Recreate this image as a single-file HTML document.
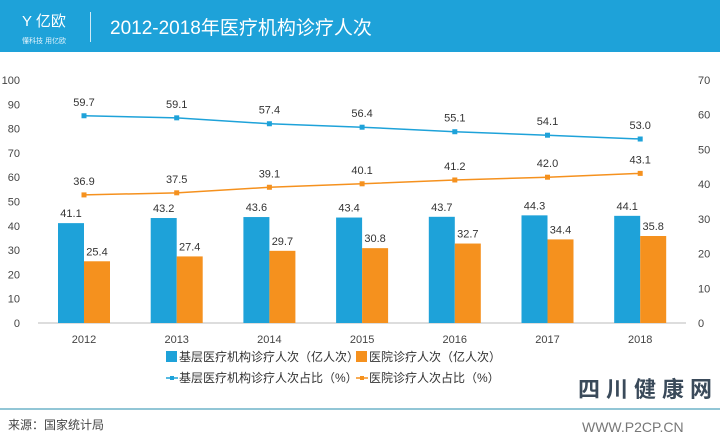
<!DOCTYPE html>
<html><head><meta charset="utf-8"><style>
body{margin:0;width:720px;height:443px;background:#fff;overflow:hidden;font-family:"Liberation Sans","Noto Sans CJK SC",sans-serif}
#hdr{position:absolute;left:0;top:0;width:720px;height:52px;background:#1ea2d9}
</style></head><body>
<div id="hdr">
<div style="position:absolute;left:22px;top:10px;color:#fff;font-size:15px">Y 亿欧</div>
<div style="position:absolute;left:22px;top:36px;color:#e0f2fb;font-size:7px">懂科技 用亿欧</div>
<div style="position:absolute;left:90px;top:12px;width:1px;height:30px;background:#cfeaf7"></div>
<div style="position:absolute;left:110px;top:13px;color:#fff;font-size:19px">2012-2018年医疗机构诊疗人次</div>
</div>
<svg id="c" width="720" height="443" style="position:absolute;left:0;top:0"></svg>
<script>
const years=["2012","2013","2014","2015","2016","2017","2018"];
const basicVisits=[41.1,43.2,43.6,43.4,43.7,44.3,44.1];
const hospVisits=[25.4,27.4,29.7,30.8,32.7,34.4,35.8];
const basicShare=[59.7,59.1,57.4,56.4,55.1,54.1,53.0];
const hospShare=[36.9,37.5,39.1,40.1,41.2,42.0,43.1];
const leftTicks=[0,10,20,30,40,50,60,70,80,90,100];
const rightTicks=[0,10,20,30,40,50,60,70];
const svg=document.getElementById('c');const NS="http://www.w3.org/2000/svg";
const y0=323,yTop=80;
const yL=v=>y0-(v/100)*(y0-yTop);
const yR=v=>y0-(v/70)*(y0-yTop);
const xC=i=>84+i*92.7;
const BLUE="#1ea2d9",ORANGE="#f5911e";
function mk(t,a,txt){const e=document.createElementNS(NS,t);for(const k in a)e.setAttribute(k,a[k]);if(txt!==undefined)e.textContent=txt;svg.appendChild(e);return e;}
leftTicks.forEach(v=>{const e=mk('text',{x:20,y:yL(v)+4,'text-anchor':'end','font-size':11,fill:'#444'},v);

});
rightTicks.forEach(v=>{const e=mk('text',{x:698,y:yR(v)+4,'text-anchor':'start','font-size':11,fill:'#444'},v);

});
const ax=mk('line',{x1:38,x2:686,y1:y0,y2:y0,stroke:'#bbb','stroke-width':1});


years.forEach((yr,i)=>{const x=xC(i);const bw=26;
const b=mk('rect',{x:x-bw,y:yL(basicVisits[i]),width:bw,height:y0-yL(basicVisits[i]),fill:BLUE});


const h=mk('rect',{x:x,y:yL(hospVisits[i]),width:bw,height:y0-yL(hospVisits[i]),fill:ORANGE});


const l1=mk('text',{x:x-bw/2,y:yL(basicVisits[i])-6,'text-anchor':'middle','font-size':11,fill:'#333'},basicVisits[i].toFixed(1));


const l2=mk('text',{x:x+bw/2,y:yL(hospVisits[i])-6,'text-anchor':'middle','font-size':11,fill:'#333'},hospVisits[i].toFixed(1));


const xl=mk('text',{x:x,y:y0+20,'text-anchor':'middle','font-size':11,fill:'#444'},yr);

});
function line(arr,col,nm){const p=arr.map((v,i)=>xC(i)+','+yR(v)).join(' ');
const pl=mk('polyline',{points:p,fill:'none',stroke:col,'stroke-width':1.5});


arr.forEach((v,i)=>{const m=mk('rect',{x:xC(i)-2.5,y:yR(v)-2.5,width:5,height:5,fill:col});


const t=mk('text',{x:xC(i),y:yR(v)-10,'text-anchor':'middle','font-size':11,fill:'#333'},v.toFixed(1));

});}
line(basicShare,BLUE,'line-basic-share');line(hospShare,ORANGE,'line-hospital-share');
function leg(x,y,col,txt,isLine,nm){let s;
if(isLine){s=mk('line',{x1:x,x2:x+12,y1:y-4,y2:y-4,stroke:col,'stroke-width':1.5});mk('rect',{x:x+4,y:y-6,width:4,height:4,fill:col});}
else s=mk('rect',{x:x,y:y-10,width:11,height:11,fill:col});
const t=mk('text',{x:x+13,y:y,'font-size':12,fill:'#333'},txt);

}
leg(166,361,BLUE,'基层医疗机构诊疗人次（亿人次）',false,'legend-basic-visits');
leg(356,361,ORANGE,'医院诊疗人次（亿人次）',false,'legend-hospital-visits');
leg(166,382,BLUE,'基层医疗机构诊疗人次占比（%）',true,'legend-basic-share');
leg(356,382,ORANGE,'医院诊疗人次占比（%）',true,'legend-hospital-share');
const sep=mk('line',{x1:0,x2:720,y1:409,y2:409,stroke:'#6fb4c8','stroke-width':1.5});


const src=mk('text',{x:8,y:429,'font-size':12,fill:'#444'},'来源：国家统计局');


const wm=mk('text',{x:578,y:397,'font-size':22,'font-weight':'bold',fill:'#3a4a5a','letter-spacing':6},'四川健康网');


const wm2=mk('text',{x:582,y:432,'font-size':14,fill:'#777'},'WWW.P2CP.CN');


</script>
</body></html>
